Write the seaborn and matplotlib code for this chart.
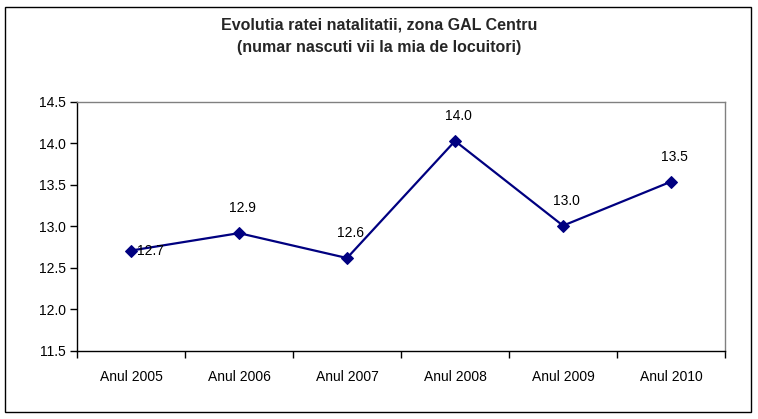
import pandas as pd
import matplotlib
matplotlib.use('Agg')
import matplotlib.pyplot as plt
import seaborn as sns
from matplotlib.patches import Rectangle
from matplotlib.ticker import FixedLocator, NullFormatter

# Data
ani = ['Anul 2005', 'Anul 2006', 'Anul 2007', 'Anul 2008', 'Anul 2009', 'Anul 2010']
rata = [12.71, 12.92, 12.62, 14.03, 13.01, 13.54]

df = pd.DataFrame({'an': ani, 'rata': rata})
df['poz'] = range(len(df))

sns.set_theme(style='white')
plt.rcParams['font.family'] = ['Liberation Sans', 'DejaVu Sans']

fig = plt.figure(figsize=(7.58, 4.19), dpi=100)
ax = fig.add_axes([0.1016, 0.1623, 0.8549, 0.5943])

sns.lineplot(data=df, x='poz', y='rata', ax=ax, color='#000080', linewidth=1.6,
             marker='D', markersize=6.5, markeredgecolor='#000080')

# etichete de date
for i, v in enumerate(rata):
    if i == 0:
        ax.annotate(f'{v:.1f}', (i, v), xytext=(6, 0), textcoords='offset pixels',
                    ha='left', va='center', fontsize=10, color='black')
    else:
        ax.annotate(f'{v:.1f}', (i, v), xytext=(3, 25), textcoords='offset pixels',
                    ha='center', va='center', fontsize=10, color='black')

ax.set_xlim(-0.5, len(ani) - 0.5)
ax.set_ylim(11.5, 14.5)
ax.set_yticks([11.5, 12.0, 12.5, 13.0, 13.5, 14.0, 14.5])
ax.set_yticklabels([f'{t:.1f}' for t in ax.get_yticks()], fontsize=10)
ax.set_xticks(range(len(ani)))
ax.set_xticklabels(ani, fontsize=10)
ax.xaxis.set_minor_locator(FixedLocator([i - 0.5 for i in range(len(ani) + 1)]))
ax.xaxis.set_minor_formatter(NullFormatter())
ax.tick_params(axis='x', which='major', length=0, pad=14, colors='black')
ax.tick_params(axis='x', which='minor', length=5, width=1, direction='out',
               bottom=True, color='black')
ax.tick_params(axis='y', which='major', length=5, width=1, direction='out',
               left=True, pad=3, colors='black')
ax.set_xlabel('')
ax.set_ylabel('')

for s in ['left', 'bottom']:
    ax.spines[s].set_color('black')
    ax.spines[s].set_linewidth(1)
for s in ['top', 'right']:
    ax.spines[s].set_color('#808080')
    ax.spines[s].set_linewidth(1)
    ax.spines[s].set_visible(True)

fig.text(0.5, 0.94, 'Evolutia ratei natalitatii, zona GAL Centru',
         ha='center', va='center', fontsize=11.5, fontweight='bold')
fig.text(0.5, 0.887, '(numar nascuti vii la mia de locuitori)',
         ha='center', va='center', fontsize=11.5, fontweight='bold')

fig.patches.append(Rectangle((5 / 758, 7 / 419), 746 / 758, 405 / 419,
                             transform=fig.transFigure, fill=False,
                             edgecolor='black', linewidth=1))

fig.savefig('out.png', dpi=100)
